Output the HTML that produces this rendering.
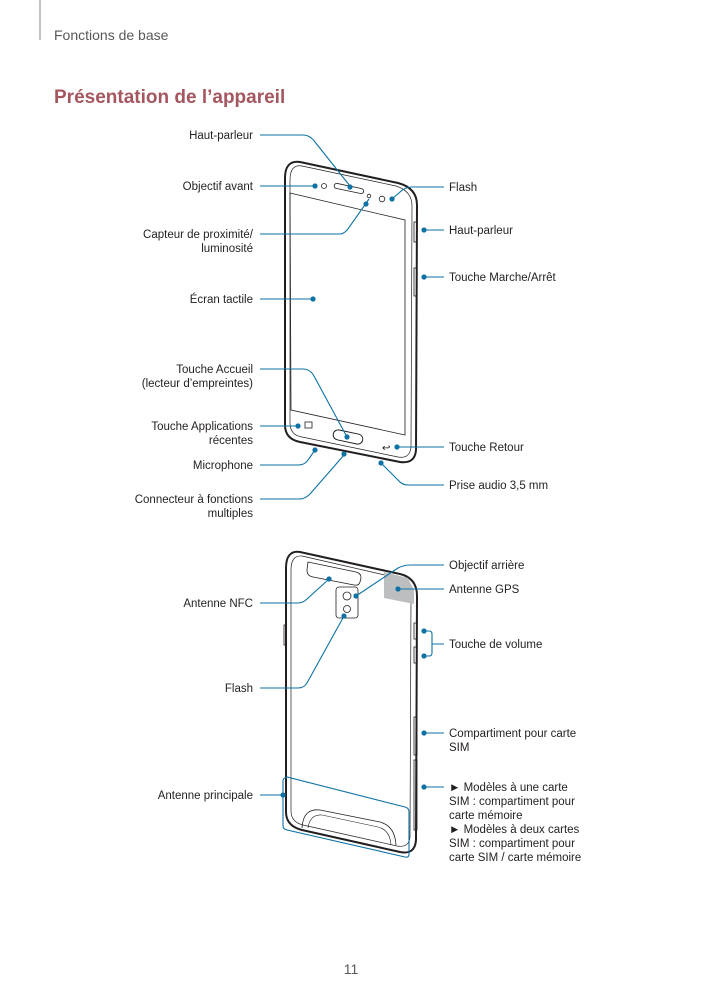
<!DOCTYPE html>
<html><head><meta charset="utf-8"><style>
html,body{margin:0;padding:0;background:#fff;}
svg{display:block;font-family:"Liberation Sans",sans-serif;}
.l{font-size:11.5px;fill:#231f20;}
.c{stroke:#0e72a4;stroke-width:1.1;fill:none;}
.d{fill:#0e72a4;}
.p{stroke:#231f20;fill:none;}
</style></head><body>
<svg width="703" height="994" viewBox="0 0 703 994">
<line x1="40" y1="0" x2="40" y2="40" stroke="#888" stroke-width="1"/>
<text x="54" y="40" font-size="14" fill="#58595b">Fonctions de base</text>
<text x="54" y="103" font-size="19" font-weight="bold" fill="#a5575f">Présentation de l’appareil</text>

<!-- FRONT PHONE -->
<path class="p" stroke-width="2" d="M300,162 L398,183 Q417,188 417,205 L416,450 Q415,464 400,462 L300,442 Q285,439 285,425 L285,178 Q285,160 300,162 Z"/>
<path class="p" stroke-width="0.7" d="M302,166 L396,186 Q412,191 412,206 L411,447 Q410,459 398,457 L302,437 Q290,435 290,423 L290,180 Q290,164 302,166 Z"/>
<path class="p" stroke-width="0.8" d="M290,193 L405,220 L405,435 L291,410 Z"/>
<rect x="414" y="222" width="3" height="20" fill="none" stroke="#231f20" stroke-width="0.8"/>
<rect x="414" y="268" width="3" height="28" fill="none" stroke="#231f20" stroke-width="0.8"/>
<rect x="334" y="186" width="30" height="5" rx="2.5" fill="none" stroke="#231f20" stroke-width="0.8" transform="rotate(12 349 188)"/>
<circle cx="324" cy="186" r="2.5" fill="none" stroke="#231f20" stroke-width="0.8"/>
<circle cx="369" cy="196" r="1.8" fill="none" stroke="#231f20" stroke-width="0.8"/>
<circle cx="382" cy="199" r="2.8" fill="none" stroke="#231f20" stroke-width="0.8"/>
<rect x="333" y="432" width="30" height="10" rx="5" fill="none" stroke="#231f20" stroke-width="1" transform="rotate(12 348 437)"/>
<rect x="305" y="422" width="7" height="6" fill="none" stroke="#231f20" stroke-width="0.8"/>
<text x="382" y="451" font-size="10" fill="#231f20">↩</text>

<!-- front connectors -->
<path class="c" d="M260,135 H303 Q310,135 315,142 L350,186"/><circle class="d" cx="350" cy="187" r="2.6"/>
<path class="c" d="M260,186 H315"/><circle class="d" cx="315" cy="186" r="2.6"/>
<path class="c" d="M260,234 H340 Q345,234 350,226 L369,199"/><circle class="d" cx="366" cy="204" r="2.6"/>
<path class="c" d="M260,299 H313"/><circle class="d" cx="313" cy="299" r="2.6"/>
<path class="c" d="M260,369 H303 Q310,369 314,376 L347,437"/><circle class="d" cx="347" cy="437" r="2.6"/>
<path class="c" d="M260,426 H298"/><circle class="d" cx="298" cy="426" r="2.6"/>
<path class="c" d="M260,465 H298 Q305,465 308,460 L315,450"/><circle class="d" cx="315" cy="450" r="2.6"/>
<path class="c" d="M260,499 H300 Q305,499 310,494 L344,455"/><circle class="d" cx="344" cy="454" r="2.6"/>
<path class="c" d="M444,187 H412 Q405,187 400,192 L392,199"/><circle class="d" cx="392" cy="199" r="2.6"/>
<path class="c" d="M444,230 H424"/><circle class="d" cx="424" cy="230" r="2.6"/>
<path class="c" d="M444,277 H424"/><circle class="d" cx="424" cy="277" r="2.6"/>
<path class="c" d="M444,447 H398"/><circle class="d" cx="397" cy="447" r="2.6"/>
<path class="c" d="M444,485 H408 Q402,485 398,480 L381,463"/><circle class="d" cx="381" cy="463" r="2.6"/>

<g class="l">
<text x="253" y="139" text-anchor="end">Haut-parleur</text>
<text x="253" y="190" text-anchor="end">Objectif avant</text>
<text x="253" y="238" text-anchor="end">Capteur de proximité/</text>
<text x="253" y="252" text-anchor="end">luminosité</text>
<text x="253" y="303" text-anchor="end">Écran tactile</text>
<text x="253" y="373" text-anchor="end">Touche Accueil</text>
<text x="253" y="387" text-anchor="end">(lecteur d’empreintes)</text>
<text x="253" y="430" text-anchor="end">Touche Applications</text>
<text x="253" y="444" text-anchor="end">récentes</text>
<text x="253" y="469" text-anchor="end">Microphone</text>
<text x="253" y="503" text-anchor="end">Connecteur à fonctions</text>
<text x="253" y="517" text-anchor="end">multiples</text>
<text x="449" y="191">Flash</text>
<text x="449" y="234">Haut-parleur</text>
<text x="449" y="281">Touche Marche/Arrêt</text>
<text x="449" y="451">Touche Retour</text>
<text x="449" y="489">Prise audio 3,5 mm</text>
</g>

<!-- BACK PHONE -->
<path class="p" stroke-width="2" d="M300,552 L400,574 Q417,578 417,596 L416,840 Q415,855 400,852 L302,830 Q286,826 286,812 L286,568 Q286,550 300,552 Z"/>
<path class="p" stroke-width="0.7" d="M302,556 L398,578 Q411,582 411,597 L410,837 Q409,848 397,846 L303,825 Q291,822 291,811 L291,570 Q291,555 302,556 Z"/>
<polygon points="384,572 408,578 414,590 414,604 384,598" fill="#bcbec0"/>
<path class="p" stroke-width="0.8" d="M308,562 L356,572 Q361,573 361,578 L360,582 Q359,586 354,585 L313,577 Q307,576 307,570 Z"/>
<rect x="336" y="587" width="22" height="31" rx="3" fill="none" stroke="#231f20" stroke-width="0.8"/>
<circle cx="347" cy="596" r="4" fill="none" stroke="#231f20" stroke-width="0.8"/>
<circle cx="347" cy="609" r="3.5" fill="none" stroke="#231f20" stroke-width="0.8"/>
<rect x="414" y="623" width="3" height="16" fill="none" stroke="#231f20" stroke-width="0.8"/>
<rect x="414" y="647" width="3" height="16" fill="none" stroke="#231f20" stroke-width="0.8"/>
<rect x="414" y="717" width="3" height="38" fill="none" stroke="#231f20" stroke-width="0.8"/>
<rect x="414" y="760" width="3" height="70" fill="none" stroke="#231f20" stroke-width="0.8"/>
<rect x="284" y="625" width="2" height="20" fill="none" stroke="#231f20" stroke-width="0.8"/>
<path class="p" stroke-width="0.8" d="M302,828 Q303,808 320,810 L380,822 Q395,826 396,845"/>
<path class="p" stroke-width="0.6" d="M308,828 Q310,814 322,815 L378,827 Q390,830 391,845"/>
<path class="c" d="M285,778 Q283,778 283,782 L283,826 Q283,829 287,830 L405,857 Q409,858 409,854 L409,812 Q409,808 405,807 L287,777 Z"/>

<!-- back connectors -->
<path class="c" d="M444,565 H410 Q404,565 398,568 L356,596"/><circle class="d" cx="356" cy="596" r="2.6"/>
<path class="c" d="M444,589 H398"/><circle class="d" cx="398" cy="589" r="2.6"/>
<path class="c" d="M260,603 H298 Q303,603 307,599 L329,579"/><circle class="d" cx="329" cy="579" r="2.6"/>
<path class="c" d="M424,631 H429 Q432,631 432,634 V653 Q432,656 429,656 H424 M432,644 H444"/><circle class="d" cx="424" cy="631" r="2.6"/><circle class="d" cx="424" cy="656" r="2.6"/>
<path class="c" d="M260,688 H298 Q304,688 307,683 L344,616"/><circle class="d" cx="344" cy="616" r="2.6"/>
<path class="c" d="M444,733 H424"/><circle class="d" cx="424" cy="733" r="2.6"/>
<path class="c" d="M444,787 H424"/><circle class="d" cx="424" cy="787" r="2.6"/>
<path class="c" d="M260,795 H283"/><circle class="d" cx="283" cy="795" r="2.6"/>

<g class="l">
<text x="449" y="569">Objectif arrière</text>
<text x="449" y="593">Antenne GPS</text>
<text x="253" y="607" text-anchor="end">Antenne NFC</text>
<text x="449" y="648">Touche de volume</text>
<text x="253" y="692" text-anchor="end">Flash</text>
<text x="449" y="737">Compartiment pour carte</text>
<text x="449" y="751">SIM</text>
<text x="253" y="799" text-anchor="end">Antenne principale</text>
<text x="449" y="791">► Modèles à une carte</text>
<text x="449" y="805">SIM : compartiment pour</text>
<text x="449" y="819">carte mémoire</text>
<text x="449" y="833">► Modèles à deux cartes</text>
<text x="449" y="847">SIM : compartiment pour</text>
<text x="449" y="861">carte SIM / carte mémoire</text>
</g>

<text x="351" y="974" text-anchor="middle" font-size="14" fill="#58595b">11</text>
</svg>
</body></html>
